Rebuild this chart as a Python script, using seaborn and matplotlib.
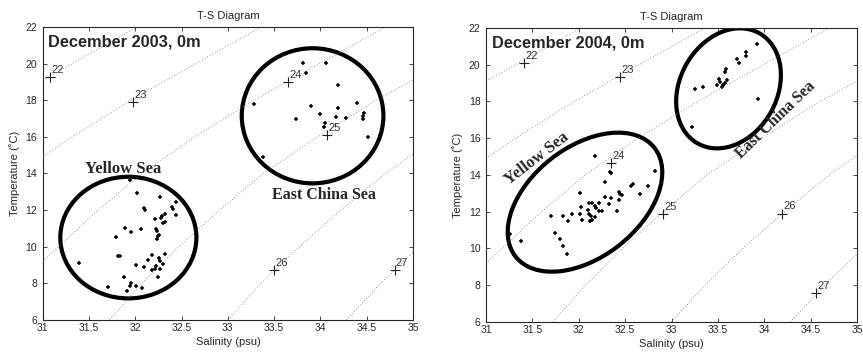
import matplotlib
matplotlib.use("Agg")
import matplotlib.pyplot as plt
import matplotlib.transforms as mtransforms
from matplotlib.patches import Ellipse
import pandas as pd
import seaborn as sns

# --- sigma-t isopycnals, (salinity, temperature) points ---
iso22_s = [31.0, 31.32, 31.67, 32.02]
iso22_t = [19.1, 20.0, 21.0, 22.0]
iso23_s = [31.0, 31.32, 31.95, 32.65, 33.36]
iso23_t = [14.9, 16.0, 18.0, 20.0, 22.0]
iso24_s = [31.0, 31.17, 31.6, 32.07, 32.64, 33.28, 33.99, 34.7]
iso24_t = [9.2, 10.0, 12.0, 14.0, 16.0, 18.0, 20.0, 22.0]
iso25_s = [31.72, 32.07, 32.47, 32.91, 33.38, 33.97, 34.6, 35.0]
iso25_t = [6.0, 8.0, 10.0, 12.0, 14.0, 16.0, 18.0, 19.1]
iso26_s = [33.0, 33.36, 33.77, 34.22, 34.7, 35.0]
iso26_t = [6.0, 8.0, 10.0, 12.0, 14.0, 15.05]
iso27_s = [34.28, 34.65, 35.0]
iso27_t = [6.0, 8.0, 9.7]
iso_names = ["22", "23", "24", "25", "26", "27"]

# label crosses on the isopycnals
lab03_s = [31.08, 31.98, 33.65, 34.07, 33.50, 34.80]
lab03_t = [19.29, 17.92, 19.01, 16.10, 8.73, 8.73]
lab04_s = [31.41, 32.44, 32.35, 32.91, 34.19, 34.56]
lab04_t = [20.11, 19.32, 14.67, 11.88, 11.90, 7.56]

# --- December 2003 stations ---
ys03_s = [31.94, 32.02, 32.27, 32.44, 32.40, 32.41, 32.09, 32.10, 32.44, 32.32,
          32.29, 32.28, 32.21, 32.30, 32.32, 31.89, 31.95, 32.06, 32.22, 32.23,
          32.26, 32.25, 31.79, 32.23, 31.81, 31.83, 32.18, 32.32, 32.26, 32.14,
          32.27, 31.39, 32.01, 32.09, 32.22, 32.21, 32.30, 32.27, 32.18, 32.25,
          31.88, 31.95, 31.94, 32.01, 32.07, 31.71, 31.91]
ys03_t = [13.64, 12.92, 12.73, 12.44, 12.15, 12.08, 12.11, 12.01, 11.75, 11.79,
          11.68, 11.59, 11.50, 11.31, 11.37, 11.00, 10.82, 10.95, 10.95, 10.84,
          10.66, 10.59, 10.55, 10.42, 9.51, 9.47, 9.55, 9.60, 9.40, 9.27,
          9.24, 9.09, 8.98, 8.91, 8.95, 8.80, 9.06, 8.78, 8.73, 8.37,
          8.37, 8.00, 7.87, 7.87, 7.76, 7.82, 7.60]
ecs03_s = [33.81, 34.06, 33.84, 34.19, 33.28, 33.90, 34.39, 34.19, 33.99, 33.74,
           34.17, 34.28, 34.47, 34.46, 34.46, 34.05, 34.04, 34.51, 33.38]
ecs03_t = [20.02, 20.02, 19.47, 18.83, 17.78, 17.70, 17.83, 17.58, 17.23, 16.96,
           17.07, 17.05, 17.29, 17.14, 16.98, 16.74, 16.52, 16.01, 14.92]

# --- December 2004 stations ---
ys04_s = [32.18, 32.34, 32.35, 32.28, 32.82, 32.58, 32.56, 32.75, 32.66, 32.01,
          32.28, 32.35, 32.43, 32.44, 32.47, 32.43, 32.22, 32.33, 32.11, 32.14,
          32.17, 32.19, 32.22, 32.25, 32.41, 32.02, 32.10, 31.93, 32.01, 32.11,
          32.13, 32.17, 31.83, 31.70, 31.88, 32.04, 32.12, 32.14, 31.74, 31.80,
          31.83, 31.87, 31.38, 31.26]
ys04_t = [15.05, 14.15, 14.10, 13.64, 14.24, 13.51, 13.40, 13.42, 12.97, 13.00,
          12.82, 12.77, 13.09, 12.95, 12.91, 12.64, 12.50, 12.42, 12.49, 12.49,
          12.33, 12.19, 12.06, 12.04, 12.06, 12.24, 12.10, 11.86, 11.88, 11.88,
          11.79, 11.70, 11.77, 11.77, 11.50, 11.55, 11.48, 11.55, 10.86, 10.50,
          10.14, 9.68, 10.43, 10.79]
ecs04_s = [33.92, 33.80, 33.80, 33.71, 33.73, 33.59, 33.58, 33.51, 33.52, 33.60,
           33.58, 33.56, 33.54, 33.49, 33.34, 33.25, 33.93, 33.22]
ecs04_t = [21.11, 20.71, 20.48, 20.29, 20.08, 19.75, 19.62, 19.21, 19.06, 19.17,
           19.02, 18.90, 18.81, 18.90, 18.81, 18.66, 18.12, 16.59]

# region ellipses: centre (S, T), width/height in psu-equivalent units, angle
T_SCALE = 5.05
ell03 = [((31.925, 10.50), 1.47, 1.315, 0), ((33.915, 17.15), 1.53, 1.461, 0)]
ell04 = [((32.067, 12.52), 1.902, 1.186, 38.0), ((33.615, 18.715), 1.361, 1.048, 60.9)]

iso_s = [iso22_s, iso23_s, iso24_s, iso25_s, iso26_s, iso27_s]
iso_t = [iso22_t, iso23_t, iso24_t, iso25_t, iso26_t, iso27_t]

sns.set_style("ticks")
plt.rcParams['font.family'] = ['Liberation Sans', 'DejaVu Sans']
plt.rcParams['axes.linewidth'] = 0.8

fig = plt.figure(figsize=(8.63, 3.55), dpi=100)
ax1 = fig.add_axes([0.0495, 0.0986, 0.4291, 0.8254])
ax2 = fig.add_axes([0.5632, 0.0930, 0.4298, 0.8282])

serif = ['Liberation Serif', 'DejaVu Serif']


def draw_panel(ax, title, ys_s, ys_t, ecs_s, ecs_t, lab_s, lab_t, ells):
    for s, t in zip(iso_s, iso_t):
        ax.plot(s, t, ls=(0, (1, 2.5)), lw=0.6, color="#777777")
    pts = pd.DataFrame({"S": ys_s + ecs_s, "T": ys_t + ecs_t})
    sns.scatterplot(data=pts, x="S", y="T", ax=ax, marker="+", s=8,
                    linewidth=1.1, color="black")
    ax.plot(lab_s, lab_t, "+", ms=7, mew=0.8, color="#222222")
    for s, t, name in zip(lab_s, lab_t, iso_names):
        ax.annotate(name, (s, t), xytext=(1, 1.5), textcoords="offset points",
                    fontsize=8, color="#333333", ha="left", va="bottom")
    tr = mtransforms.Affine2D().scale(1.0, T_SCALE) + ax.transData
    for (c, w, h, ang) in ells:
        ax.add_patch(Ellipse((c[0], c[1] / T_SCALE), w, h, angle=ang,
                             transform=tr, fill=False, lw=3, color="black"))
    ax.set_xlim(31, 35)
    ax.set_ylim(6, 22)
    ax.set_xticks([31, 31.5, 32, 32.5, 33, 33.5, 34, 34.5, 35])
    ax.set_xticklabels(["31", "31.5", "32", "32.5", "33", "33.5", "34", "34.5", "35"])
    ax.set_yticks(range(6, 23, 2))
    ax.tick_params(direction="in", top=True, right=True, length=3, width=0.6,
                   labelsize=7.5, pad=2)
    ax.tick_params(axis="y", pad=4)
    ax.set_xlabel("Salinity (psu)", fontsize=8, labelpad=3)
    ax.set_ylabel("Temperature (\u02daC)", fontsize=8, labelpad=4)
    ax.set_title("T-S Diagram", fontsize=8, pad=6)
    ax.text(0.015, 0.975, title, transform=ax.transAxes, ha="left", va="top",
            fontsize=11.8, fontweight="bold")


draw_panel(ax1, "December 2003, 0m", ys03_s, ys03_t, ecs03_s, ecs03_t,
           lab03_s, lab03_t, ell03)
draw_panel(ax2, "December 2004, 0m", ys04_s, ys04_t, ecs04_s, ecs04_t,
           lab04_s, lab04_t, ell04)

ax1.text(31.87, 14.25, "Yellow Sea", family=serif, fontweight="bold",
         fontsize=12, ha="center", va="center")
ax1.text(34.04, 12.8, "East China Sea", family=serif, fontweight="bold",
         fontsize=11.5, ha="center", va="center")
ax2.text(31.55, 14.91, "Yellow Sea", family=serif, fontweight="bold",
         fontsize=12, ha="center", va="center", rotation=37.5,
         rotation_mode="anchor")
ax2.text(34.12, 17.0, "East China Sea", family=serif, fontweight="bold",
         fontsize=11.5, ha="center", va="center", rotation=44,
         rotation_mode="anchor")

fig.savefig("out.png", dpi=100)
